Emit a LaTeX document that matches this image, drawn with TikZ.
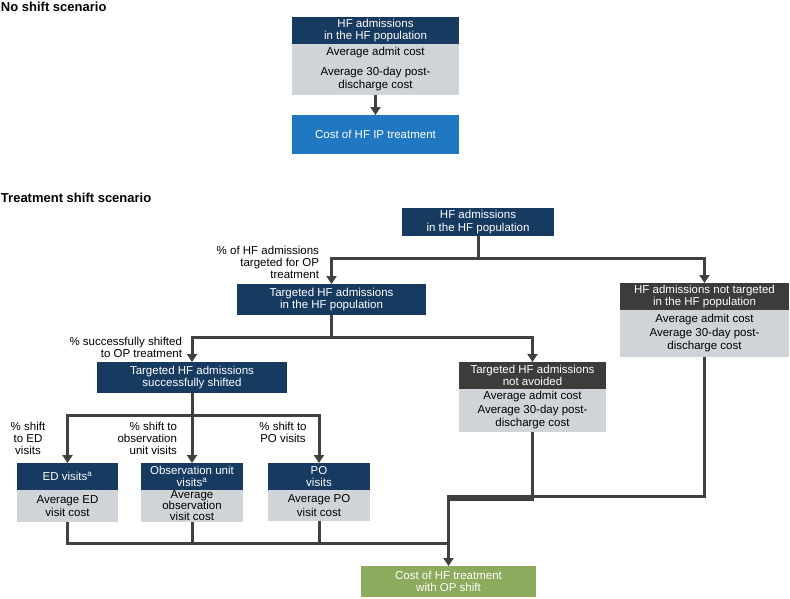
\documentclass[tikz,border=0pt]{standalone}
\usepackage{fontspec}
\setmainfont{Liberation Sans}
\usetikzlibrary{arrows.meta,positioning}
\definecolor{navy}{HTML}{173A61}
\definecolor{darkbox}{HTML}{3C3C3C}
\definecolor{boxgray}{HTML}{D0D3D8}
\definecolor{ipblue}{HTML}{2078C2}
\definecolor{opgreen}{HTML}{8DAB5C}
\definecolor{linegray}{HTML}{404040}
\begin{document}
\begin{tikzpicture}[x=1pt,y=-1pt,
  every node/.style={font=\fontsize{11.5}{12.5}\selectfont,inner sep=0pt,outer sep=0pt},
  heading/.style={font=\fontsize{13}{15}\selectfont\bfseries,anchor=base west},
  hdr/.style={fill=navy,text=white,align=center,minimum height=27pt,anchor=north west},
  hdrdark/.style={hdr,fill=darkbox},
  body/.style={fill=boxgray,align=center,font=\fontsize{11.5}{13.5}\selectfont},
  lbl/.style={align=right,anchor=north east,font=\fontsize{11.5}{12}\selectfont},
  link/.style={draw=linegray,line width=3pt},
  conn/.style={link,-{Triangle[length=8pt,width=10pt]}}
]
  \useasboundingbox (0,0) rectangle (790,598);
  \node[heading] (nstitle) at (1,11) {No shift scenario};
  \node[hdr,minimum width=167pt] (nshead) at (292,17) {HF admissions\\in the HF population};
  \node[body,minimum width=167pt,minimum height=51pt,below=0pt of nshead] (nsbody) {Average admit cost\\[6pt]Average 30-day post-\\discharge cost};
  \node[hdr,fill=ipblue,minimum width=167pt,minimum height=39pt] (nscost) at (292,115) {Cost of HF IP treatment};
  \draw[conn] (nsbody) -- (nscost);

  \node[heading] (tstitle) at (1,202) {Treatment shift scenario};
  \node[hdr,minimum width=152pt,minimum height=28pt] (tshead) at (402,208) {HF admissions\\in the HF population};
  \node[hdr,minimum width=189pt,minimum height=31pt] (target) at (237,284) {Targeted HF admissions\\in the HF population};
  \node[hdrdark,minimum width=169pt] (nottgt) at (620,283) {HF admissions not targeted\\in the HF population};
  \node[body,minimum width=169pt,minimum height=47pt,below=0pt of nottgt] (nottgtcost) {Average admit cost\\Average 30-day post-\\discharge cost};
  \node[hdr,minimum width=190pt,minimum height=31pt] (shifted) at (97,362) {Targeted HF admissions\\successfully shifted};
  \node[hdrdark,minimum width=147pt] (notavoid) at (459,362) {Targeted HF admissions\\not avoided};
  \node[body,minimum width=147pt,minimum height=43pt,below=0pt of notavoid] (notavoidcost) {Average admit cost\\Average 30-day post-\\discharge cost};
  \node[hdr,minimum width=101pt] (ed) at (17,463) {ED visits\textsuperscript{a}};
  \node[body,minimum width=101pt,minimum height=32pt,below=0pt of ed] (edcost) {Average ED\\visit cost};
  \node[hdr,minimum width=102pt] (obs) at (141,463) {Observation unit\\visits\textsuperscript{a}};
  \node[body,minimum width=102pt,minimum height=32pt,below=0pt of obs,font=\fontsize{11.5}{11}\selectfont] (obscost) {Average\\observation\\visit cost};
  \node[hdr,minimum width=102pt] (po) at (268,463) {PO\\visits};
  \node[body,minimum width=102pt,minimum height=31pt,below=0pt of po] (pocost) {Average PO\\visit cost};
  \node[hdr,fill=opgreen,minimum width=175pt,minimum height=31pt] (opcost) at (361,566) {Cost of HF treatment\\with OP shift};

  \node[lbl] (pcttarget) at (319,246) {\% of HF admissions\\targeted for OP\\treatment};
  \node[lbl] (pctshift) at (182,337) {\% successfully shifted\\to OP treatment};
  \node[lbl,align=center,anchor=north] (pcted) at (28,422) {\% shift\\to ED\\visits};
  \node[lbl] (pctobs) at (177,422) {\% shift to\\observation\\unit visits};
  \node[lbl,align=center,anchor=north] (pctpo) at (283,422) {\% shift to\\PO visits};

  \coordinate (j1) at ([yshift=-22pt]tshead.south);
  \coordinate (j2) at ([yshift=-22pt]target.south);
  \coordinate (j3) at ([yshift=-22pt]shifted.south);
  \coordinate (j4) at ([yshift=70pt]opcost.north);
  \coordinate (j5) at ([yshift=23pt]opcost.north);
  \draw[link] (tshead) -- (j1);
  \draw[conn] (j1) -| (target);
  \draw[conn] (j1) -| (nottgt);
  \draw[link] (target) -- (j2);
  \draw[conn] (j2) -| (shifted);
  \draw[conn] (j2) -| (notavoid);
  \draw[link] (shifted) -- (j3);
  \draw[conn] (j3) -| (ed);
  \draw[conn] (j3) -- (obs);
  \draw[conn] (j3) -| (po);
  \draw[link] (edcost) |- (j5);
  \draw[link] (obscost) -- (obscost |- j5);
  \draw[link] (pocost) -- (pocost |- j5);
  \draw[link] (notavoidcost) |- ([yshift=-3pt]j4);
  \draw[conn] (nottgtcost) |- (j4) -- (opcost);
\end{tikzpicture}
\end{document}
